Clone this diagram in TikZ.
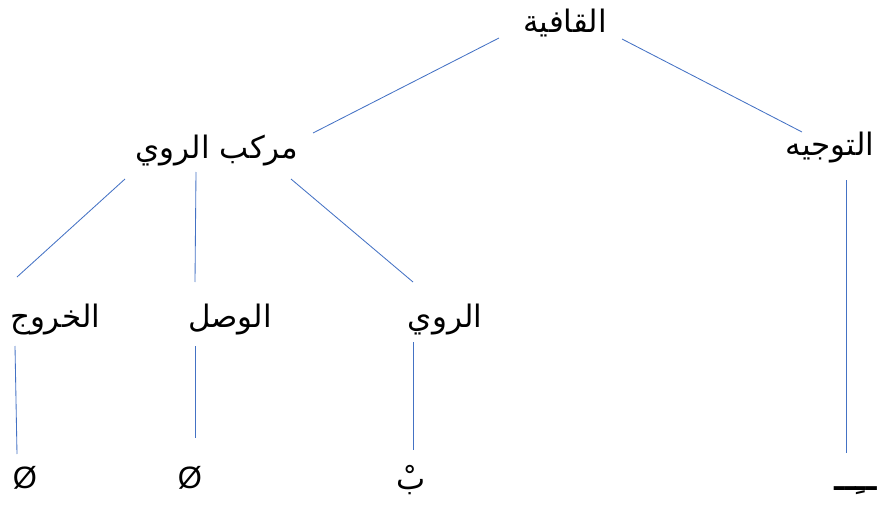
\documentclass[tikz,border=0pt]{standalone}
\usepackage{fontspec}
\setmainfont{Liberation Sans}
\newfontfamily\arabicfont[Script=Arabic]{DejaVu Sans}
\TeXXeTstate=1
\definecolor{linkblue}{RGB}{68,114,196}
\newcommand{\ar}[1]{\arabicfont\beginR #1\endR}

\begin{document}
\begin{tikzpicture}[x=0.025cm, y=-0.025cm,
    term/.style={inner sep=0pt, font=\fontsize{22}{26}\selectfont},
    nothing/.style={inner sep=0pt, font=\fontsize{22}{26}\selectfont},
    branch/.style={draw=linkblue, line width=0.6pt}]
    \useasboundingbox (0,0) rectangle (877,506);

    \node[term] (qafiya) at (565,23) {\ar{القافية}};
    \node[term] (murakkab) at (217,151) {\ar{مركب الروي}};
    \node[term] (tawjih) at (830,148) {\ar{التوجيه}};
    \node[term] (khuruj) at (55,320) {\ar{الخروج}};
    \node[term] (wasl) at (230,320) {\ar{الوصل}};
    \node[term] (rawi) at (445,320) {\ar{الروي}};
    \node[nothing] (zeroA) at (25,478) {Ø};
    \node[nothing] (zeroB) at (190,478) {Ø};
    \node[term] (ba) at (411,480) {\ar{بْ}};
    \node[term, font=\fontsize{22}{26}\bfseries, anchor=base east] (kasra) at (877,490) {\ar{ــِــ}};

    \draw[branch] ([shift={(-66,15)}]qafiya.center) -- ([shift={(96,-18)}]murakkab.center);
    \draw[branch] ([shift={(57,16)}]qafiya.center) -- ([shift={(-28,-16)}]tawjih.center);
    \draw[branch] ([shift={(-92,28)}]murakkab.center) -- ([shift={(-38,-43)}]khuruj.center);
    \draw[branch] ([shift={(-21,21)}]murakkab.center) -- ([shift={(-35,-38)}]wasl.center);
    \draw[branch] ([shift={(74,28)}]murakkab.center) -- ([shift={(-32,-38)}]rawi.center);
    \draw[branch] ([shift={(16,32)}]tawjih.center) -- ([shift={(846-877,453-490)}]kasra.base east);
    \draw[branch] ([shift={(-40,26)}]khuruj.center) -- ([shift={(-8,-24)}]zeroA.center);
    \draw[branch] ([shift={(-35,26)}]wasl.center) -- ([shift={(5,-40)}]zeroB.center);
    \draw[branch] ([shift={(-32,22)}]rawi.center) -- ([shift={(2,-30)}]ba.center);
\end{tikzpicture}
\end{document}
